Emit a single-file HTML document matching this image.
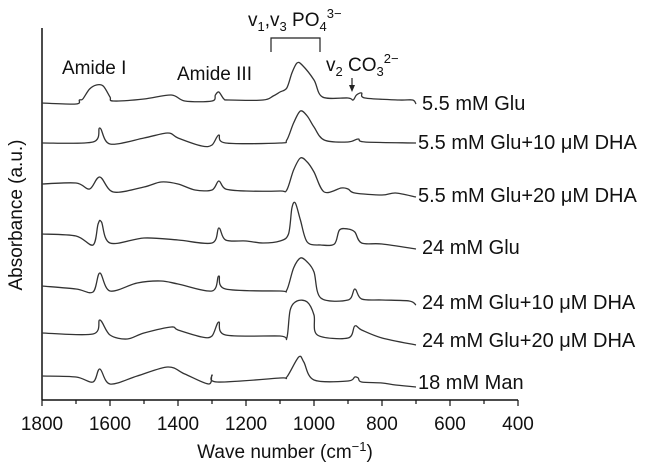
<!DOCTYPE html>
<html><head><meta charset="utf-8"><style>
body{margin:0;background:#fff;}
svg{display:block;font-family:"Liberation Sans",Arial,sans-serif;}
</style></head><body>
<svg id="chart" width="646" height="470" viewBox="0 0 646 470" xmlns="http://www.w3.org/2000/svg">
<g id="axes"></g>
<g id="series"></g>
<g id="labels"></g>
<g fill="#111">
  <text x="62" y="74" font-size="19">Amide I</text>
  <text x="177" y="80" font-size="19">Amide III</text>
  <text x="248" y="26" font-size="19">v<tspan font-size="13" dy="5">1</tspan><tspan dy="-5">,v</tspan><tspan font-size="13" dy="5">3</tspan><tspan dy="-5"> PO</tspan><tspan font-size="13" dy="5">4</tspan><tspan font-size="13" dy="-13">3−</tspan></text>
  <path d="M271,52 V38 H320 V52" fill="none" stroke="#222" stroke-width="1.2"/>
  <text x="326" y="71" font-size="19">v<tspan font-size="13" dy="5">2</tspan><tspan dy="-5"> CO</tspan><tspan font-size="13" dy="5">3</tspan><tspan font-size="13" dy="-13">2−</tspan></text>
  <path d="M352,78 V88" stroke="#222" stroke-width="1.2"/>
  <path d="M349,85 L355,85 L352,92 Z" fill="#222"/>
  <text transform="translate(22,215) rotate(-90)" text-anchor="middle" font-size="19">Absorbance (a.u.)</text>
  <text x="285" y="458" text-anchor="middle" font-size="19">Wave number (cm<tspan font-size="13" dy="-7">−1</tspan><tspan dy="7">)</tspan></text>
</g>
</svg>
<script>
const xTicks=[1800,1600,1400,1200,1000,800,600,400];
const seriesNames=["5.5 mM Glu","5.5 mM Glu+10 \u03bcM DHA","5.5 mM Glu+20 \u03bcM DHA","24 mM Glu","24 mM Glu+10 \u03bcM DHA","24 mM Glu+20 \u03bcM DHA","18 mM Man"];
const labelY=[103,142,195,247,302,340,382];
const labelX=[422,418,418,422,422,422,418];
const wn1=[1800,1700,1690,1680,1660,1640,1620,1600,1590,1500,1420,1380,1300,1290,1280,1265,1250,1150,1120,1100,1080,1065,1050,1035,1000,975,900,885,875,860,850,750,710,700];
const s1=[0,-1,3,4,14,18,17,6,2,4,8,2,2,8,11,4,3,3,7,11,15,30,40,38,23,6,5,3,8,10,5,3,3,-1];
const wn2=[1800,1650,1630,1600,1500,1430,1400,1330,1300,1280,1260,1100,1080,1060,1040,1020,1000,970,900,870,850,700];
const s2=[0,1,15,-1,5,10,5,-3,-2,8,0,0,3,20,32,27,16,3,1,4,1,0];
const wn3=[1800,1700,1660,1630,1590,1500,1450,1400,1350,1300,1280,1260,1200,1100,1080,1060,1040,1020,1000,970,920,900,880,800,760,700];
const s3=[0,1,-5,7,-8,-3,2,0,-6,-6,3,-5,-7,-7,-6,14,26,22,12,-8,-4,-5,-9,-11,-9,-13];
const wn4=[1800,1700,1650,1635,1625,1600,1500,1400,1300,1280,1260,1200,1150,1100,1075,1065,1055,1040,1020,980,940,925,900,880,860,800,700];
const s4=[0,-2,-11,10,12,-9,-4,-6,-9,6,-6,-7,-9,-7,0,26,31,14,-8,-11,-10,4,5,2,-9,-10,-15];
const wn5=[1800,1700,1650,1630,1600,1520,1450,1400,1300,1280,1260,1100,1080,1060,1040,1020,1000,980,900,880,860,800,720,700];
const s5=[0,-3,-6,13,-5,3,5,2,-5,10,-3,-5,-4,18,28,24,14,-12,-14,-3,-13,-14,-15,-19];
const wn6=[1800,1650,1630,1600,1550,1500,1420,1400,1330,1300,1280,1260,1100,1080,1070,1050,1020,1000,990,900,880,860,800,700];
const s6=[0,-1,13,-2,-6,0,6,3,-4,-3,11,-2,-3,-5,23,32,31,18,-2,-5,7,3,-5,-12];
const wn7=[1800,1700,1650,1630,1600,1520,1430,1380,1310,1300,1285,1100,1080,1045,1030,1000,900,880,870,860,800,760,700];
const s7=[0,-1,-6,7,-8,0,9,2,-8,1,-6,-2,-1,19,14,-4,-5,-1,-2,-6,-7,-9,-11];
const wnAll=[wn1,wn2,wn3,wn4,wn5,wn6,wn7];
const sAll=[s1,s2,s3,s4,s5,s6,s7];
const baselines=[103,143,184,234,286,333,376];

const NS="http://www.w3.org/2000/svg";
const X0=42,PX=0.34,YTOP=28,YBOT=400;
function xs(w){return X0+(1800-w)*PX;}
function el(t,a,p){const e=document.createElementNS(NS,t);for(const k in a)e.setAttribute(k,a[k]);p.appendChild(e);return e;}
function smooth(pts){
  let d='M'+pts[0][0].toFixed(1)+','+pts[0][1].toFixed(1);
  for(let i=0;i<pts.length-1;i++){
    const p0=pts[Math.max(0,i-1)],p1=pts[i],p2=pts[i+1],p3=pts[Math.min(pts.length-1,i+2)];
    const t=0.16;
    const c1=[p1[0]+(p2[0]-p0[0])*t,p1[1]+(p2[1]-p0[1])*t];
    const c2=[p2[0]-(p3[0]-p1[0])*t,p2[1]-(p3[1]-p1[1])*t];
    d+='C'+c1[0].toFixed(1)+','+c1[1].toFixed(1)+' '+c2[0].toFixed(1)+','+c2[1].toFixed(1)+' '+p2[0].toFixed(1)+','+p2[1].toFixed(1);
  }
  return d;
}
const axes=document.getElementById('axes');
const yl=el('line',{x1:X0,y1:YTOP,x2:X0,y2:YBOT,stroke:'#111','stroke-width':1.5},axes);


const xl=el('line',{x1:X0,y1:YBOT,x2:xs(400),y2:YBOT,stroke:'#111','stroke-width':1.5},axes);


for(let w=1800;w>=400;w-=100){
  const major=(w%200===0);
  const t=el('line',{x1:xs(w),y1:YBOT,x2:xs(w),y2:YBOT+(major?6:4),stroke:'#111','stroke-width':1.2},axes);
  
  
}
xTicks.forEach(v=>{
  const t=el('text',{x:xs(v),y:430,'text-anchor':'middle','font-size':19,fill:'#111'},axes);
  t.textContent=v;
  
  
});
const sg=document.getElementById('series');
sAll.forEach((s,i)=>{
  const wn=wnAll[i];
  const pts=s.map((v,j)=>[xs(wn[j]),baselines[i]-v]);
  const p=el('path',{d:smooth(pts),fill:'none',stroke:'#333','stroke-width':1.3,'stroke-linejoin':'round'},sg);
  
  
});
const lg=document.getElementById('labels');
seriesNames.forEach((n,i)=>{
  const t=el('text',{x:labelX[i],y:labelY[i]+7,'font-size':20,fill:'#111'},lg);
  t.textContent=n;
  
  
});
</script>
</body></html>
